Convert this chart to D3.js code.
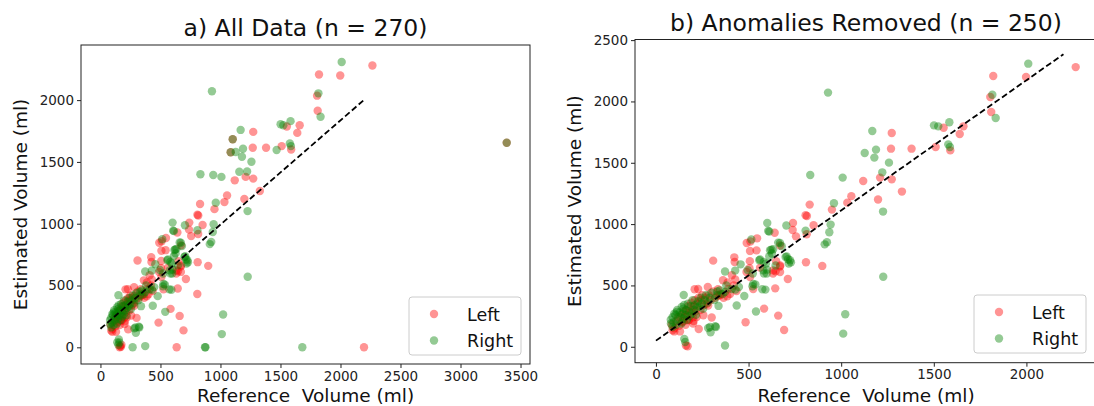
<!DOCTYPE html>
<html>
<head>
<meta charset="utf-8">
<script src="https://cdn.jsdelivr.net/npm/d3@7"></script>
<style>
  html, body { margin: 0; padding: 0; background: #fff; }
  svg { display: block; font-family: "DejaVu Sans", sans-serif; }
  text { white-space: pre; }
</style>
</head>
<body>
<svg id="chart" width="1094" height="406"></svg>
<script>
// ---------------- DATA ----------------
// "Left" series, cleaned data [reference ml, estimated ml]
const leftClean = [
  [2266,2280],[1821,2207],[1998,2199],[1805,2036],[1810,1914],[1553,1786],[1660,1797],[1640,1735],
  [1589,1601],[1510,1628],[1380,1615],[1273,1743],[1269,1615],[1210,1379],[1273,1365],[1119,1351],
  [1328,1265],[1199,1200],[1055,1228],[1033,1175],[950,1118],[830,1159],[808,1072],[815,1066],
  [851,990],[814,917],[810,689],[898,659],[740,1009],[738,952],[756,900],[641,929],[546,884],
  [510,858],[508,781],[543,786],[671,825],[507,698],[649,697],[671,662],[632,597],[646,615],
  [489,610],[670,610],[712,553],[644,476],[525,470],[584,311],[660,254],[692,137],[484,200],
  [309,702],[423,729],[425,691],[505,640],[410,583],[428,548],[362,542],[387,525],[435,455],
  [338,417],[280,487],[228,471],[209,469],[282,336],[231,145],[150,208],[203,210],[99,125],
  [162,10],[171,4],[130,125],[562,645],[633,623],[670,654],[508,569],[490,846],[346,420],
  [385,412],[301,238],[256,257],[220,243],[201,189],[175,216],[90,135],
  [85,180],[100,150],[110,210],[120,240],[125,170],[135,260],[140,200],[150,290],[155,240],
  [160,180],[165,300],[170,260],[175,330],[180,220],[185,280],[190,360],[195,300],[200,240],
  [205,330],[210,380],[215,290],[225,350],[230,400],[240,300],[245,380],[250,420],[260,340],
  [265,400],[275,350],[285,420],[295,380],[310,450],[320,400],[335,470],[350,430],[365,400],
  [390,470],[400,430],[420,500]
];
// "Right" series, cleaned data
const rightClean = [
  [2010,2308],[1816,2055],[1834,1865],[1501,1805],[1524,1797],[1584,1830],[1578,1650],[1587,1628],
  [1168,1759],[1188,1607],[1127,1580],[1179,1542],[1258,1501],[1222,1422],[1226,1102],[1227,571],
  [929,2072],[833,1400],[1008,1379],[961,1170],[943,996],[936,933],[923,852],[911,835],[808,947],
  [1022,265],[1011,107],[601,1009],[704,988],[606,944],[612,940],[515,874],[660,849],[623,792],
  [626,760],[612,738],[562,711],[582,691],[646,663],[700,732],[713,713],[729,688],[600,629],
  [583,597],[523,597],[591,466],[537,507],[540,287],[373,10],[457,672],[373,613],[428,621],
  [448,487],[429,466],[477,414],[436,336],[331,450],[338,333],[320,167],[282,153],[295,118],
  [150,422],[99,270],[81,189],[90,161],[153,64],[158,39],[616,787],[633,795],[670,846],[679,819],
  [706,737],[724,705],[717,678],[558,705],[594,678],[579,623],[598,597],[495,625],[525,512],
  [521,493],[574,469],[373,447],[292,161],[324,161],[112,284],[139,325],[148,311],
  [80,220],[90,240],[95,200],[105,260],[110,180],[115,300],[120,220],[128,280],[132,240],
  [138,190],[142,270],[148,230],[152,340],[158,260],[162,300],[168,220],[172,350],[178,290],
  [183,250],[188,330],[194,270],[198,380],[204,300],[210,340],[216,260],[222,320],[228,370],
  [235,330],[242,400],[248,350],[255,310],[262,380],[270,420],[280,360],[290,400],[300,440],
  [315,380],[330,420],[345,460],[360,430],[380,500],[410,470]
];
// anomalies (present only in panel a)
const leftAnomalies = [
  [635,0],[2196,0],[3385,1655],[1102,1683],[1085,1578],[807,431],[160,0],[175,20]
];
const rightAnomalies = [
  [268,0],[871,0],[875,0],[1682,0],[3385,1655],[1102,1683],[1085,1578],[940,1394],
  [1468,1596],[1157,1421],[150,20],[140,40]
];
// dashed fit lines: [x, y] end points
const fitAll = [[0,150],[2200,2005]];
const fitClean = [[0,50],[2200,2385]];

const titles = ["a) All Data (n = 270)", "b) Anomalies Removed (n = 250)"];
const seriesNames = ["Left", "Right"];
const xTicksA = [0,500,1000,1500,2000,2500,3000,3500];
const yTicksA = [0,500,1000,1500,2000];
const xTicksB = [0,500,1000,1500,2000];
const yTicksB = [0,500,1000,1500,2000,2500];
const xLabel = "Reference  Volume (ml)";
const yLabel = "Estimated Volume (ml)";

// ---------------- DRAW ----------------
const svg = d3.select("#chart");
const colors = ["rgba(255,0,0,0.42)", "rgba(0,128,0,0.42)"];

const panels = [
  { box:[81,530,45,364], xd:[-162,3579], yd:[-135,2446], xt:xTicksA, yt:yTicksA,
    series:[leftClean.concat(leftAnomalies), rightClean.concat(rightAnomalies)], fit:fitAll,
    title:titles[0], legend:[409,297] },
  { box:[635,1097,39.5,362.7], xd:[-113,2381], yd:[-130,2505], xt:xTicksB, yt:yTicksB,
    series:[leftClean, rightClean], fit:fitClean,
    title:titles[1], legend:[974,295] }
];

panels.forEach(p => {
  const [x0,x1,y0,y1] = p.box;
  const x = d3.scaleLinear().domain(p.xd).range([x0,x1]);
  const y = d3.scaleLinear().domain(p.yd).range([y1,y0]);
  const g = svg.append("g");

  // points
  p.series.forEach((pts, i) => {
    g.append("g").selectAll("circle").data(pts).join("circle")
      .attr("cx", d => x(d[0])).attr("cy", d => y(d[1]))
      .attr("r", 4.2).attr("fill", colors[i]);
  });

  // fit line
  g.append("line")
    .attr("x1", x(p.fit[0][0])).attr("y1", y(p.fit[0][1]))
    .attr("x2", x(p.fit[1][0])).attr("y2", y(p.fit[1][1]))
    .attr("stroke", "#000").attr("stroke-width", 1.8).attr("stroke-dasharray", "6,3");

  // axes
  const xa = g.append("g").attr("transform", `translate(0,${y1})`)
    .call(d3.axisBottom(x).tickValues(p.xt).tickSize(4).tickPadding(3).tickFormat(d3.format("d")));
  const ya = g.append("g").attr("transform", `translate(${x0},0)`)
    .call(d3.axisLeft(y).tickValues(p.yt).tickSize(4).tickPadding(3).tickFormat(d3.format("d")));
  [xa, ya].forEach(a => {
    a.select(".domain").remove();
    a.selectAll("line").attr("stroke", "#222");
    a.selectAll("text").attr("fill", "#222").style("font-size", "13.5px")
      .style("font-family", "DejaVu Sans");
  });

  // frame
  g.append("rect").attr("x", x0).attr("y", y0).attr("width", x1-x0).attr("height", y1-y0)
    .attr("fill", "none").attr("stroke", "#222").attr("stroke-width", 1);

  // title
  g.append("text").attr("x", (x0+x1)/2).attr("y", y0-9).attr("text-anchor", "middle")
    .style("font-size", "23.5px").attr("fill", "#111").text(p.title);
  // x label
  g.append("text").attr("x", (x0+x1)/2).attr("y", 402).attr("text-anchor", "middle")
    .style("font-size", "18.5px").attr("fill", "#111").text(xLabel);
  // y label
  g.append("text").attr("transform", `translate(${x0-54},${(y0+y1)/2}) rotate(-90)`)
    .attr("text-anchor", "middle").style("font-size", "18.5px").attr("fill", "#111").text(yLabel);

  // legend
  const [lx, ly] = p.legend;
  const lg = g.append("g").attr("transform", `translate(${lx},${ly})`);
  lg.append("rect").attr("width", 112).attr("height", 58).attr("rx", 3)
    .attr("fill", "rgba(255,255,255,0.85)").attr("stroke", "#ccc");
  seriesNames.forEach((n, i) => {
    lg.append("circle").attr("cx", 25).attr("cy", 17 + i*26.5).attr("r", 4.2).attr("fill", colors[i]);
    lg.append("text").attr("x", 58).attr("y", 17 + i*26.5 + 6.5).style("font-size", "17.5px")
      .attr("fill", "#111").text(n);
  });
});
</script>
</body>
</html>
